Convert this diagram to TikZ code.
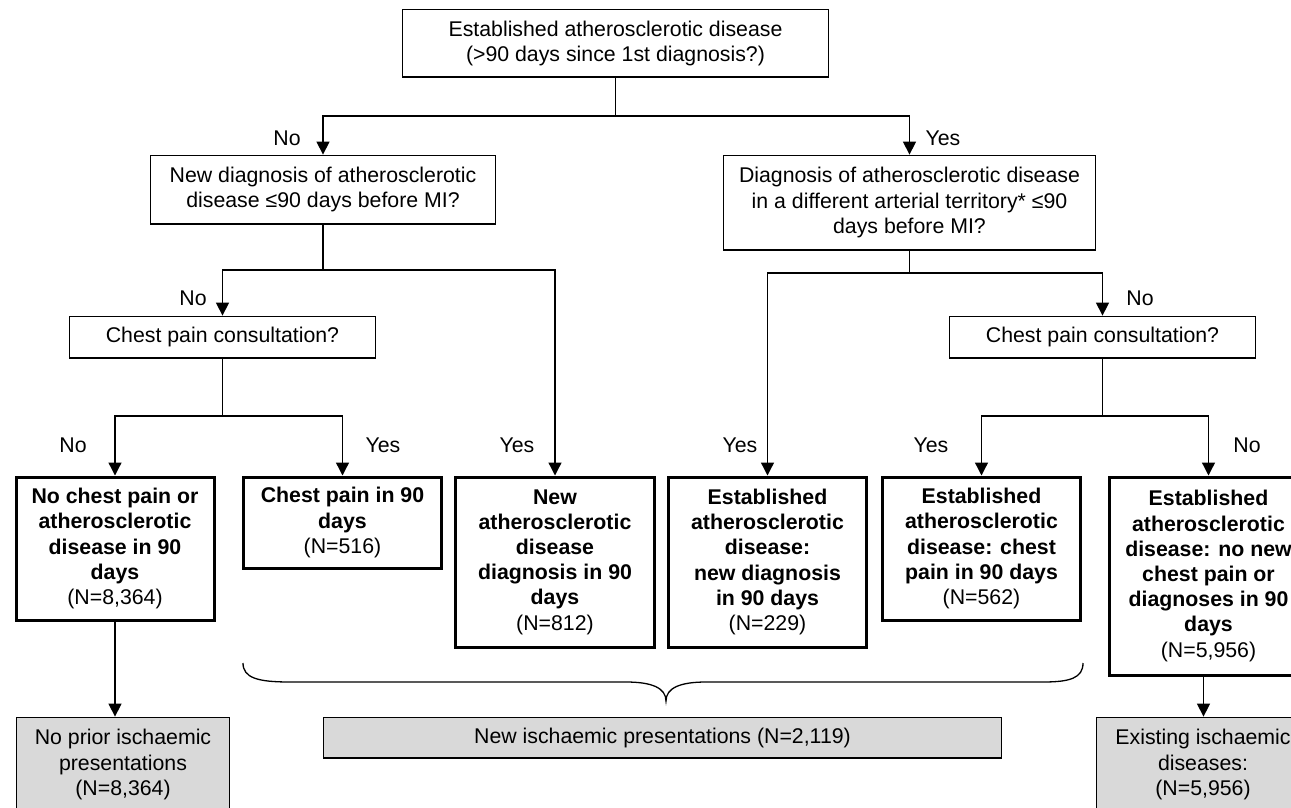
\documentclass[tikz,border=0pt]{standalone}
\usepackage{fontspec}
\setmainfont{Liberation Sans}
\usetikzlibrary{arrows.meta}
\definecolor{boxgray}{HTML}{D9D9D9}

\begin{document}
\begin{tikzpicture}[x=1pt,y=-1pt,
  every node/.style={font=\fontsize{21.3}{25.2}\selectfont, inner sep=0pt, align=center},
  question/.style={draw, line width=1.3pt, anchor=north},
  outcome/.style={draw, line width=3pt, anchor=north,
    font=\fontsize{21.3}{25.2}\selectfont\bfseries},
  summary/.style={draw, line width=1.3pt, fill=boxgray, anchor=north},
  link/.style={line width=1.3pt, -{Triangle[width=13pt,length=13pt]}},
  plain/.style={line width=1.3pt},
  brace/.style={line width=1.3pt}
]
\useasboundingbox (0,0) rectangle (1291,807);
\clip (0,0) rectangle (1291,807);

% decision boxes
\node[question, minimum width=425.7pt, minimum height=67.7pt] (top) at (615.5,8.6)
  {Established atherosclerotic disease\\(>90 days since 1st diagnosis?)};
\node[question, minimum width=344.7pt, minimum height=68.7pt] (q1L) at (323,154.6)
  {New diagnosis of atherosclerotic\\disease ≤90 days before MI?};
\node[question, minimum width=371.7pt, minimum height=94.7pt] (q1R) at (909.5,154.6)
  {Diagnosis of atherosclerotic disease\\in a different arterial territory* ≤90\\days before MI?};
\node[question, minimum width=305.7pt, minimum height=41.7pt] (cpL) at (222.5,315.6)
  {Chest pain consultation?};
\node[question, minimum width=305.7pt, minimum height=41.7pt] (cpR) at (1102.5,315.6)
  {Chest pain consultation?};

% outcome boxes
\node[outcome, minimum width=198pt, minimum height=143pt] (A) at (115,475.5)
  {No chest pain or\\atherosclerotic\\disease in 90\\days\\\mdseries(N=8,364)};
\node[outcome, minimum width=198pt, minimum height=91pt] (B) at (342.5,475.5)
  {Chest pain in 90\\days\\\mdseries(N=516)};
\node[outcome, minimum width=199pt, minimum height=170pt] (C) at (555,475.5)
  {New\\atherosclerotic\\disease\\diagnosis in 90\\days\\\mdseries(N=812)};
\node[outcome, minimum width=198pt, minimum height=170pt] (D) at (767.5,475.5)
  {Established\\atherosclerotic\\disease:\\new diagnosis\\in 90 days\\\mdseries(N=229)};
\node[outcome, minimum width=198pt, minimum height=143pt] (E) at (981.5,475.5)
  {Established\\atherosclerotic\\disease: chest\\pain in 90 days\\\mdseries(N=562)};
\node[outcome, minimum width=198pt, minimum height=198pt] (F) at (1208.5,475.5)
  {Established\\atherosclerotic\\disease: no new\\chest pain or\\diagnoses in 90\\days\\\mdseries(N=5,956)};

% summary boxes
\node[summary, minimum width=212.7pt, minimum height=94.7pt] (G1) at (123,716.6)
  {No prior ischaemic\\presentations\\(N=8,364)};
\node[summary, minimum width=677.7pt, minimum height=40.7pt] (G2) at (662.5,716.6)
  {New ischaemic presentations (N=2,119)};
\node[summary, minimum width=212.7pt, minimum height=94.7pt] (G3) at (1203,716.6)
  {Existing ischaemic\\diseases:\\(N=5,956)};

% branch points
\coordinate (j0) at (615.5,116);
\coordinate (jL) at (323,270);
\coordinate (jR) at (909.5,273);
\coordinate (jcL) at (222.5,416);
\coordinate (jcR) at (1102.5,416);

% connectors
\draw[plain] (top.south) -- (j0);
\draw[link] (j0) -| (q1L.north);
\draw[link] (j0) -| (q1R.north);

\draw[plain] (q1L.south) -- (jL);
\draw[link] (jL) -| (cpL.north);
\draw[link] (jL) -| (C.north);

\draw[plain] (q1R.south) -- (jR);
\draw[link] (jR) -| (D.north);
\draw[link] (jR) -| (cpR.north);

\draw[plain] (cpL.south) -- (jcL);
\draw[link] (jcL) -| (A.north);
\draw[link] (jcL) -| (B.north);

\draw[plain] (cpR.south) -- (jcR);
\draw[link] (jcR) -| (E.north);
\draw[link] (jcR) -| (F.north);

\draw[link] (A.south) -- (A.south |- G1.north);
\draw[link] ([xshift=-5pt]F.south) -- ([xshift=-5pt]F.south |- G3.north);

% answer labels
\node (aTopNo)  at (287,138) {No};
\node (aTopYes) at (943,138) {Yes};
\node (aLNo)    at (193,298) {No};
\node (aRNo)    at (1140,298) {No};
\node (aCLNo)   at (73,445) {No};
\node (aCLYes)  at (383,445) {Yes};
\node (aLYes)   at (517,445) {Yes};
\node (aRYes)   at (740,445) {Yes};
\node (aCRYes)  at (931,445) {Yes};
\node (aCRNo)   at (1247,445) {No};

% brace grouping the new presentations
\draw[brace] (243,663) .. controls (243,678) and (258,682) .. (290,682)
  -- (626,682) .. controls (652,682) and (666,688) .. (666,701)
  .. controls (666,688) and (680,682) .. (706,682)
  -- (1043,682) .. controls (1070,682) and (1083,678) .. (1083,663);
\end{tikzpicture}
\end{document}
